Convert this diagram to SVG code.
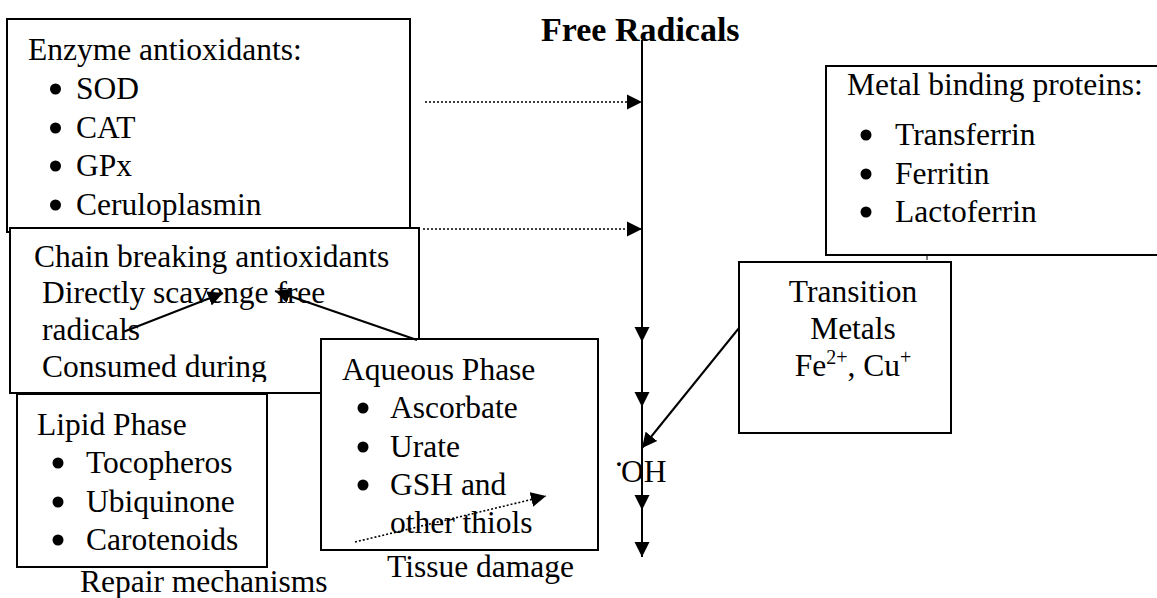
<svg xmlns="http://www.w3.org/2000/svg" width="1157" height="598" viewBox="0 0 1157 598">
<style>
.box{fill:#fff;stroke:#000;stroke-width:2}
.t{font-family:"Liberation Serif","Times New Roman",serif;font-size:31.5px;fill:#000}
.bul{fill:#000}
.title{font-family:"Liberation Serif","Times New Roman",serif;font-size:34px;font-weight:bold;fill:#000}
.ln{fill:none;stroke:#000;stroke-width:2}
.dot{fill:none;stroke:#000;stroke-width:1.6;stroke-dasharray:2 2}
</style>
<defs>
<marker id="ah" markerUnits="userSpaceOnUse" markerWidth="16" markerHeight="16" viewBox="0 0 16 16" refX="15" refY="8" orient="auto">
<path d="M0,0.5 L15,8 L0,15.5 Z" fill="#000"/>
</marker>
<clipPath id="chainclip"><rect x="10" y="228" width="409" height="154"/></clipPath>
</defs>

<g id="enzyme">
<rect class="box" x="7" y="19" width="403" height="213"/>
<text class="t" x="28" y="60">Enzyme antioxidants:</text>
<circle class="bul" cx="55.5" cy="89" r="5.5"/><text class="t" x="76" y="99">SOD</text>
<circle class="bul" cx="55.5" cy="128" r="5.5"/><text class="t" x="76" y="138">CAT</text>
<circle class="bul" cx="55.5" cy="166" r="5.5"/><text class="t" x="76" y="176">GPx</text>
<circle class="bul" cx="55.5" cy="205" r="5.5"/><text class="t" x="76" y="215">Ceruloplasmin</text>
</g>

<g id="chain">
<rect class="box" x="10" y="228" width="409" height="165"/>
<g clip-path="url(#chainclip)">
<text class="t" x="34" y="267">Chain breaking antioxidants</text>
<text class="t" x="42" y="303">Directly scavenge free</text>
<text class="t" x="42" y="340">radicals</text>
<text class="t" x="42" y="377">Consumed during</text>
</g>
</g>

<g id="lipid">
<rect class="box" x="17" y="394" width="250" height="173"/>
<text class="t" x="37" y="435">Lipid Phase</text>
<circle class="bul" cx="58" cy="463" r="5.5"/><text class="t" x="86" y="473">Tocopheros</text>
<circle class="bul" cx="58" cy="502" r="5.5"/><text class="t" x="86" y="512">Ubiquinone</text>
<circle class="bul" cx="58" cy="540" r="5.5"/><text class="t" x="86" y="550">Carotenoids</text>
</g>
<text id="repair" class="t" x="80" y="592">Repair mechanisms</text>

<g id="aqueous">
<rect class="box" x="321" y="339" width="277" height="211"/>
<text class="t" x="342" y="380">Aqueous Phase</text>
<circle class="bul" cx="363" cy="408" r="5.5"/><text class="t" x="390" y="418">Ascorbate</text>
<circle class="bul" cx="363" cy="447" r="5.5"/><text class="t" x="390" y="457">Urate</text>
<circle class="bul" cx="363" cy="485" r="5.5"/><text class="t" x="390" y="495">GSH and</text>
<text class="t" x="390" y="533">other thiols</text>
</g>
<text id="tissue" class="t" x="387" y="577">Tissue damage</text>

<g id="metal">
<rect class="box" x="826" y="66" width="340" height="189"/>
<text class="t" x="847" y="95">Metal binding proteins:</text>
<circle class="bul" cx="866" cy="135" r="5.5"/><text class="t" x="895" y="145">Transferrin</text>
<circle class="bul" cx="866" cy="174" r="5.5"/><text class="t" x="895" y="184">Ferritin</text>
<circle class="bul" cx="866" cy="212" r="5.5"/><text class="t" x="895" y="222">Lactoferrin</text>
<line x1="927" y1="256" x2="927" y2="260" stroke="#000" stroke-width="1"/>
</g>

<g id="transition">
<rect class="box" x="739" y="262" width="212" height="171"/>
<text class="t" x="853" y="302" text-anchor="middle">Transition</text>
<text class="t" x="853" y="339" text-anchor="middle">Metals</text>
<text class="t" x="853" y="376" text-anchor="middle">Fe<tspan font-size="20" dy="-12">2+</tspan><tspan dy="12">, Cu</tspan><tspan font-size="20" dy="-12">+</tspan></text>
</g>

<text id="title" class="title" x="541" y="41">Free Radicals</text>

<g id="oh">
<text class="t" x="615" y="466" font-size="22">.</text>
<text class="t" x="621" y="482">OH</text>
</g>

<g id="connectors">
<path class="ln" d="M642,40 V342" marker-end="url(#ah)"/>
<path class="ln" d="M642,342 V407" marker-end="url(#ah)"/>
<path class="ln" d="M642,407 V510" marker-end="url(#ah)"/>
<path class="ln" d="M642,510 V557" marker-end="url(#ah)"/>
<path class="dot" d="M425,102 H642" marker-end="url(#ah)"/>
<path class="dot" d="M423,229 H642" marker-end="url(#ah)"/>
<path class="ln" d="M739,328 L642,448" marker-end="url(#ah)"/>
<path class="ln" d="M123,332 L223,293" marker-end="url(#ah)"/>
<path class="ln" d="M417,340 L275,291" marker-end="url(#ah)"/>
<path class="dot" d="M355,542 L546,496" marker-end="url(#ah)"/>
</g>
</svg>
